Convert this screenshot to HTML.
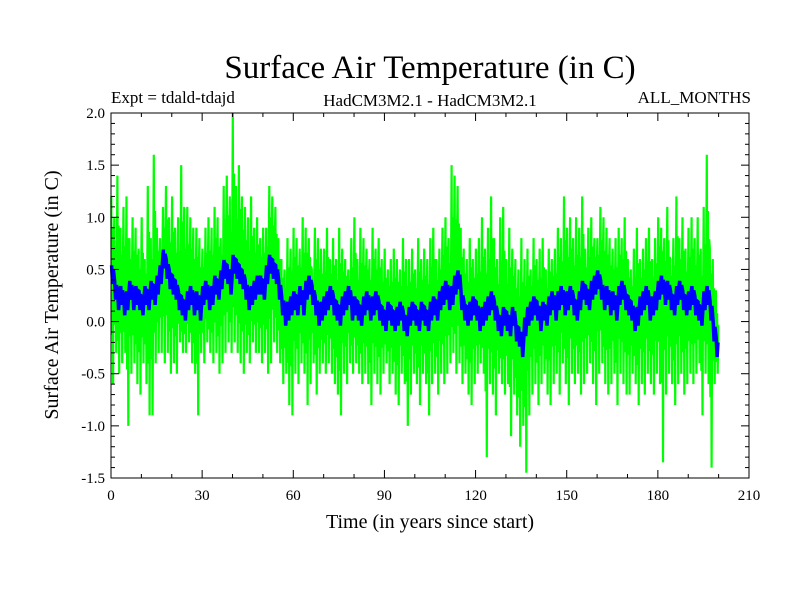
<!DOCTYPE html>
<html><head><meta charset="utf-8"><style>
body{margin:0;background:#fff;}
svg{display:block;font-family:"Liberation Serif",serif;}
</style></head><body>
<svg id="chart" width="800" height="600" viewBox="0 0 800 600">
<rect width="800" height="600" fill="#fff"/>
<text x="430" y="78" font-size="33" text-anchor="middle">Surface Air Temperature (in C)</text>
<text x="111" y="103" font-size="17">Expt = tdald-tdajd</text>
<text x="430" y="106" font-size="17" text-anchor="middle">HadCM3M2.1 - HadCM3M2.1</text>
<text x="751" y="103" font-size="17" text-anchor="end">ALL_MONTHS</text>
<text transform="translate(58,295) rotate(-90)" font-size="20" text-anchor="middle">Surface Air Temperature (in C)</text>
<text x="430" y="528" font-size="20" text-anchor="middle">Time (in years since start)</text>
<g id="series"></g>
<g id="axes"></g>
</svg>
<script>
const xTicks=[0,30,60,90,120,150,180,210];
const yTicks=[2.0,1.5,1.0,0.5,0.0,-0.5,-1.0,-1.5];
const greenHi=[1.2,1.0,1.4,0.9,1.1,1.2,0.8,1.0,0.9,0.7,
1.0,0.6,1.3,0.8,1.6,0.9,0.8,1.1,1.3,1.0,
1.2,0.9,1.0,1.5,1.1,1.1,1.0,0.9,0.9,0.8,
0.7,0.9,1.0,0.9,1.1,1.0,0.8,1.3,1.4,1.2,
2.0,1.3,1.5,1.2,1.1,1.0,1.2,0.9,1.0,0.8,
0.9,0.9,1.3,1.2,1.1,0.8,0.6,0.5,0.8,0.7,
0.9,0.8,0.7,1.0,0.9,0.8,0.5,0.9,0.8,0.7,
0.7,0.9,0.6,0.8,0.6,0.9,0.7,0.6,0.5,0.8,
1.0,0.6,0.9,0.8,0.7,0.6,0.9,0.7,0.8,0.6,
0.7,0.5,0.6,0.7,0.6,0.5,0.8,0.6,0.6,0.7,
0.5,0.8,0.6,0.7,0.6,0.8,0.9,0.6,0.7,0.9,
1.0,0.8,1.5,1.4,1.3,0.9,0.7,0.6,0.8,0.6,
0.7,0.8,1.0,0.7,0.9,1.2,0.8,0.6,1.0,1.1,
0.6,0.9,0.7,0.6,0.5,0.8,0.6,0.7,0.5,0.8,
0.6,0.7,0.8,0.5,0.7,0.6,0.7,0.9,0.8,1.2,
0.9,1.0,0.8,1.0,0.9,1.2,0.7,0.9,1.0,0.8,
0.8,1.1,1.0,0.9,0.8,0.7,0.8,0.9,0.8,1.0,
0.6,0.5,0.7,0.9,0.6,0.7,0.8,0.9,0.6,0.8,
1.0,0.9,0.8,1.1,0.6,0.8,1.2,0.8,1.0,0.7,
0.9,1.0,0.8,1.0,0.7,1.1,1.6,0.7,0.6,0.3];
const greenLo=[-0.6,-0.3,-0.5,-0.4,-0.3,-1.0,-0.5,-0.4,-0.6,-0.7,
-0.4,-0.6,-0.9,-0.9,-0.4,-0.3,-0.3,-0.4,-0.3,-0.5,
-0.4,-0.5,-0.2,-0.3,-0.3,-0.2,-0.4,-0.5,-0.9,-0.3,
-0.4,-0.2,-0.3,-0.4,-0.3,-0.5,-0.4,-0.3,-0.2,-0.3,
-0.2,-0.3,-0.4,-0.5,-0.3,-0.4,-0.2,-0.3,-0.3,-0.4,
-0.3,-0.5,-0.4,-0.2,-0.3,-0.4,-0.6,-0.5,-0.8,-0.9,
-0.5,-0.6,-0.4,-0.5,-0.8,-0.6,-0.4,-0.7,-0.5,-0.4,
-0.5,-0.4,-0.5,-0.6,-0.7,-0.9,-0.5,-0.6,-0.4,-0.5,
-0.4,-0.5,-0.6,-0.5,-0.6,-0.8,-0.5,-0.6,-0.7,-0.5,
-0.4,-0.6,-0.5,-0.7,-0.8,-0.5,-0.6,-1.0,-0.7,-0.5,
-0.6,-0.8,-0.5,-0.6,-0.9,-0.6,-0.5,-0.7,-0.5,-0.6,
-0.5,-0.4,-0.3,-0.5,-0.4,-0.6,-0.5,-0.7,-0.8,-0.6,
-0.5,-0.4,-0.5,-1.3,-0.6,-0.7,-0.9,-0.5,-0.6,-0.7,
-0.6,-1.1,-0.7,-0.9,-1.2,-1.0,-1.45,-0.9,-0.7,-0.6,
-0.8,-0.6,-0.5,-0.7,-0.8,-0.6,-0.5,-0.7,-0.4,-0.6,
-0.8,-0.5,-0.6,-0.5,-0.7,-0.6,-0.5,-0.4,-0.6,-0.8,
-0.5,-0.4,-0.6,-0.7,-0.6,-0.5,-0.8,-0.5,-0.6,-0.7,
-0.7,-0.5,-0.6,-0.8,-0.6,-0.7,-0.5,-0.6,-0.7,-0.5,
-0.6,-1.35,-0.7,-0.5,-0.6,-0.8,-0.6,-0.5,-0.7,-0.6,
-0.5,-0.6,-0.5,-0.4,-0.9,-0.5,-0.6,-1.4,-0.6,-0.5];
const blueMean=[0.45,0.3,0.2,0.25,0.15,0.2,0.3,0.2,0.25,0.2,
0.15,0.25,0.2,0.3,0.25,0.35,0.45,0.6,0.5,0.4,
0.35,0.3,0.2,0.15,0.1,0.2,0.25,0.15,0.2,0.1,
0.25,0.3,0.2,0.25,0.35,0.3,0.4,0.5,0.45,0.35,
0.55,0.5,0.45,0.4,0.3,0.2,0.25,0.3,0.35,0.35,
0.3,0.45,0.55,0.5,0.45,0.3,0.15,0.05,0.1,0.15,
0.2,0.15,0.25,0.15,0.3,0.35,0.25,0.15,0.05,0.1,
0.15,0.2,0.25,0.15,0.1,0.05,0.15,0.2,0.25,0.1,
0.15,0.1,0.05,0.15,0.2,0.1,0.15,0.2,0.1,0.05,
0.0,0.1,0.05,0.0,0.05,0.1,0.0,-0.05,0.05,0.1,
0.05,0.0,0.1,0.05,0.0,0.1,0.15,0.1,0.2,0.25,
0.3,0.2,0.25,0.35,0.4,0.2,0.1,0.05,0.1,0.15,
0.1,0.0,0.05,0.1,0.15,0.2,0.1,0.0,-0.05,0.05,
0.0,-0.05,0.05,-0.1,-0.15,-0.25,-0.05,0.05,0.1,0.15,
0.1,0.0,0.1,0.05,0.15,0.2,0.1,0.2,0.25,0.15,
0.2,0.25,0.15,0.1,0.2,0.3,0.25,0.2,0.3,0.35,
0.4,0.3,0.2,0.25,0.15,0.2,0.1,0.25,0.3,0.2,
0.15,0.1,0.0,0.05,0.15,0.2,0.25,0.1,0.15,0.2,
0.3,0.35,0.25,0.3,0.2,0.15,0.25,0.3,0.2,0.15,
0.2,0.25,0.15,0.1,0.05,0.2,0.25,0.1,-0.1,-0.25];

const X0=111,X1=749,Y0=113,Y1=478;
const xs=v=>X0+(v-0)/(210-0)*(X1-X0);
const ys=v=>Y0+(2.0-v)/(2.0+1.5)*(Y1-Y0);
const NS='http://www.w3.org/2000/svg';
function mk(tag,attrs,parent){const e=document.createElementNS(NS,tag);for(const k in attrs)e.setAttribute(k,attrs[k]);parent.appendChild(e);return e;}
const series=document.getElementById('series'),axes=document.getElementById('axes');

let gp=[];
for(let i=0;i<greenHi.length;i++){
  const m=blueMean[i];
  gp.push(xs(i+0.1).toFixed(1)+','+ys(greenHi[i]).toFixed(1));
  gp.push(xs(i+0.3).toFixed(1)+','+ys(m+(greenLo[i]-m)*0.55).toFixed(1));
  gp.push(xs(i+0.5).toFixed(1)+','+ys(m+(greenHi[i]-m)*0.6).toFixed(1));
  gp.push(xs(i+0.7).toFixed(1)+','+ys(greenLo[i]).toFixed(1));
  gp.push(xs(i+0.9).toFixed(1)+','+ys(m+(greenHi[i]-m)*0.4).toFixed(1));
}
const g=mk('polyline',{points:gp.join(' '),fill:'none',stroke:'#00ff00','stroke-width':2.2},series);


let bp=[];
for(let i=0;i<blueMean.length;i++){
  bp.push(xs(i+0.2).toFixed(1)+','+ys(blueMean[i]+0.09).toFixed(1));
  bp.push(xs(i+0.5).toFixed(1)+','+ys(blueMean[i]-0.09).toFixed(1));
  bp.push(xs(i+0.8).toFixed(1)+','+ys(blueMean[i]+0.05).toFixed(1));
}
const b=mk('polyline',{points:bp.join(' '),fill:'none',stroke:'#0000ff','stroke-width':3.5},series);



const frame=mk('rect',{x:X0,y:Y0,width:X1-X0,height:Y1-Y0,fill:'none',stroke:'#000','stroke-width':1},axes);


for(let v=0;v<=210;v+=10){const major=v%30===0;const L=major?8:4;
mk('line',{x1:xs(v),x2:xs(v),y1:Y1,y2:Y1-L,stroke:'#000'},axes);
mk('line',{x1:xs(v),x2:xs(v),y1:Y0,y2:Y0+L,stroke:'#000'},axes);}
for(let k=-15;k<=20;k++){const v=k/10;const major=k%5===0;const L=major?8:4;
mk('line',{x1:X0,x2:X0+L,y1:ys(v),y2:ys(v),stroke:'#000'},axes);
mk('line',{x1:X1,x2:X1-L,y1:ys(v),y2:ys(v),stroke:'#000'},axes);}
xTicks.forEach(v=>{const t=mk('text',{x:xs(v),y:Y1+22,'font-size':15,'text-anchor':'middle'},axes);t.textContent=v;

});
yTicks.forEach(v=>{const t=mk('text',{x:X0-6,y:ys(v)+5,'font-size':15,'text-anchor':'end'},axes);t.textContent=v.toFixed(1);

});
</script>
</body></html>
